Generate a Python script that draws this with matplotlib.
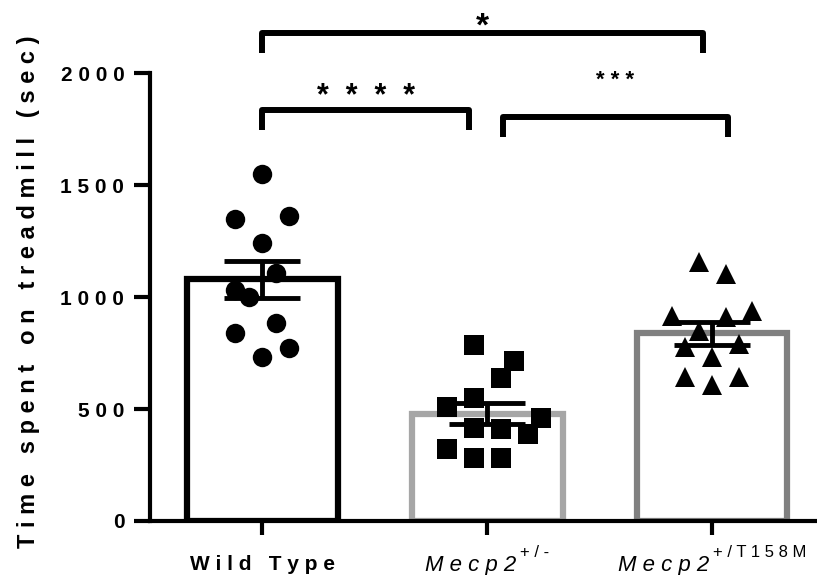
import numpy as np
import matplotlib

matplotlib.use("Agg")
import matplotlib.pyplot as plt
from matplotlib.transforms import offset_copy

plt.rcParams["font.family"] = ["Liberation Sans", "DejaVu Sans"]

# Treadmill endurance per animal (sec)
GROUP_NAMES = ["Wild Type", "Mecp2", "Mecp2"]
GROUP_SUPERSCRIPTS = ["", "+/-", "+/T158M"]
WILD_TYPE = [1549, 1362, 1348, 1241, 1107, 1031, 1000, 884, 839, 772, 732]
MECP2_HET = [786, 714, 638, 549, 509, 460, 415, 411, 388, 321, 281, 281]
MECP2_T158M = [1156, 1103, 938, 915, 911, 848, 790, 777, 732, 643, 643, 607]

# Post-hoc comparisons: (group a, group b, label)
COMPARISONS = [(0, 2, "*"), (0, 1, "****"), (1, 2, "***")]

Y_TICKS = [0, 500, 1000, 1500, 2000]

# --- layout / style -------------------------------------------------------
BAR_EDGE = ["#000000", "#a6a6a6", "#808080"]
MARKERS = ["o", "s", "^"]
# horizontal dodge of each dot, in half-dot steps, so the swarm doesn't overlap
DODGE = [
    [0, 2, -2, 0, 1, -2, -1, 1, -2, 2, 0],
    [-1, 2, 1, -1, -3, 4, -1, 1, 3, -3, -1, 1],
    [-1, 1, 3, -3, 1, -1, 2, -2, 0, -2, 2, 0],
]
DODGE_STEP = 0.06
# bracket geometry: top height, leg drop, end nudges, label height/size/gap
BRACKETS = [
    dict(top=2179, drop=90, nudge=(0.0, -0.04), text_y=2168, size=24, gap=1),
    dict(top=1835, drop=90, nudge=(0.0, -0.08), text_y=1858, size=22, gap=2),
    dict(top=1804, drop=90, nudge=(0.07, 0.07), text_y=1944, size=16, gap=1),
]


def spaced(s, gap=1):
    # Prism-style tracking: blank space between every glyph
    return (" " * gap).join(s)


groups = [np.array(WILD_TYPE), np.array(MECP2_HET), np.array(MECP2_T158M)]
means = [g.mean() for g in groups]
sems = [g.std(ddof=1) / np.sqrt(len(g)) for g in groups]
xpos = np.arange(len(groups))

fig = plt.figure(figsize=(8.17, 5.75), dpi=100)
ax = fig.add_axes([150 / 817, 1 - 521 / 575, 667 / 817, 521 / 575])

ax.bar(xpos, means, width=0.67, color="white", edgecolor=BAR_EDGE,
       linewidth=4.5, zorder=1)
ax.errorbar(xpos, means, yerr=sems, fmt="none", ecolor="black",
            elinewidth=3.5, capsize=27.5, capthick=3.5, zorder=2)

for i, (vals, dodge) in enumerate(zip(groups, DODGE)):
    xs = i + np.array(dodge) * DODGE_STEP
    ax.plot(xs, vals, ls="none", marker=MARKERS[i], ms=14, color="black",
            mec="black", mew=0, zorder=3, clip_on=False)

# significance brackets
for (a, b, label), br in zip(COMPARISONS, BRACKETS):
    x0 = a + br["nudge"][0]
    x1 = b + br["nudge"][1]
    top = br["top"]
    ax.plot([x0, x0, x1, x1], [top - br["drop"], top, top, top - br["drop"]],
            color="black", lw=4.3, solid_joinstyle="round",
            solid_capstyle="butt", clip_on=False, zorder=4)
    ax.text((x0 + x1) / 2, br["text_y"], spaced(label, br["gap"]),
            ha="center", va="baseline", fontsize=br["size"],
            fontweight="bold")

# axes
ax.set_xlim(-0.5, 2.467)
ax.set_ylim(0, 2326)
for side in ("top", "right"):
    ax.spines[side].set_visible(False)
ax.spines["left"].set_bounds(0, 2000)
ax.spines["left"].set_linewidth(3)
ax.spines["bottom"].set_linewidth(3)
ax.set_yticks(Y_TICKS)
ax.set_yticklabels([spaced(str(t)) for t in Y_TICKS], fontsize=15,
                   fontweight="bold")
ax.tick_params(axis="y", length=11.5, width=3, pad=7)
ax.set_xticks(xpos)
ax.set_xticklabels([])
ax.tick_params(axis="x", length=10, width=3)

ax.set_ylabel(spaced("Time spent on treadmill (sec)"), fontsize=17,
              fontweight="bold")
ax.yaxis.set_label_coords(-0.165, 0.44)

# category labels, with superscript genotypes, centred as a whole on the tick
xform = ax.get_xaxis_transform()
label_parts = []
for i, (name, sup) in enumerate(zip(GROUP_NAMES, GROUP_SUPERSCRIPTS)):
    if sup:
        base = ax.text(i, -0.096, spaced(name), transform=xform, ha="left",
                       va="baseline", fontsize=16, fontstyle="italic")
        tail = ax.annotate(spaced(sup), xy=(1, 0), xycoords=base,
                           xytext=(2.5, 13.5), textcoords="offset points",
                           ha="left", va="baseline", fontsize=12)
        label_parts.append((base, tail))
    else:
        base = ax.text(i, -0.094, spaced(name), transform=xform, ha="left",
                       va="baseline", fontsize=15, fontweight="bold")
        label_parts.append((base, base))

fig.canvas.draw()
renderer = fig.canvas.get_renderer()
for base, tail in label_parts:
    left = base.get_window_extent(renderer).x0
    right = tail.get_window_extent(renderer).x1
    shift = -(right - left) / 2 * 72 / fig.dpi
    base.set_transform(offset_copy(xform, fig=fig, x=shift, units="points"))

fig.savefig("out.png", dpi=100, facecolor="white")
